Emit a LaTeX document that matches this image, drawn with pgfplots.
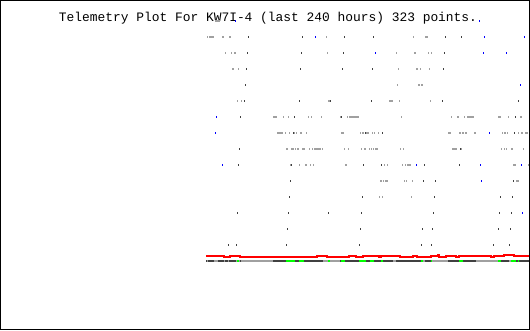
\documentclass[border=0pt]{standalone}
\usepackage{pgfplots}
\pgfplotsset{compat=1.18}
\usepackage{fontspec}
\newfontfamily\monofont{Liberation Mono}
\definecolor{dk}{HTML}{404040}
\definecolor{lg}{HTML}{A0A0A0}
\definecolor{bl}{HTML}{0000FF}
\definecolor{gr}{HTML}{00FF00}
\definecolor{rd}{HTML}{FF0000}
\pgfdeclareplotmark{bit}{\pgfpathrectangle{\pgfpoint{0pt}{-1pt}}{\pgfpoint{1pt}{2pt}}\pgfusepathqfill}
\begin{document}
\begin{tikzpicture}
\begin{axis}[
  width=530pt, height=330pt, scale only axis,
  xmin=0, xmax=530, ymin=0, ymax=330, y dir=reverse,
  hide axis, clip=false,
  unbounded coords=jump,
]
% frame and title
\draw[black, line width=1pt] (axis cs:0.5,0.5) rectangle (axis cs:529.5,329.5);
\node[anchor=base, inner sep=0pt, font=\monofont\fontsize{12.9}{14}\selectfont] at (axis cs:268,21.5) {Telemetry Plot For KW7I-4 (last 240 hours) 323 points.};

% light gray runs
\addplot[lg, line width=2pt, mark=none] coordinates {
(215,21)(220,21)(0,nan)(319,21)(320,21)(0,nan)
(207,37)(208,37)(0,nan)(209,37)(214,37)(0,nan)(222,37)(224,37)(0,nan)(229,37)(231,37)(0,nan)(326,37)(327,37)(0,nan)(413,37)(414,37)(0,nan)(425,37)(428,37)(0,nan)
(225,53)(226,53)(0,nan)(231,53)(232,53)(0,nan)(234,53)(236,53)(0,nan)(327,53)(328,53)(0,nan)(396,53)(397,53)(0,nan)(414,53)(416,53)(0,nan)(428,53)(429,53)(0,nan)(431,53)(432,53)(0,nan)
(232,69)(234,69)(0,nan)(238,69)(239,69)(0,nan)(398,69)(399,69)(0,nan)(416,69)(418,69)(0,nan)(420,69)(421,69)(0,nan)(429,69)(430,69)(0,nan)
(397,85)(398,85)(0,nan)(418,85)(420,85)(0,nan)(421,85)(423,85)(0,nan)
(237,101)(238,101)(0,nan)(241,101)(242,101)(0,nan)(328,101)(330,101)(0,nan)(389,101)(393,101)(0,nan)(399,101)(400,101)(0,nan)(430,101)(431,101)(0,nan)
(273,117)(277,117)(0,nan)(283,117)(284,117)(0,nan)(288,117)(289,117)(0,nan)(308,117)(309,117)(0,nan)(311,117)(312,117)(0,nan)(321,117)(322,117)(0,nan)(340,117)(341,117)(0,nan)(347,117)(348,117)(0,nan)(349,117)(359,117)(0,nan)(401,117)(402,117)(0,nan)(451,117)(452,117)(0,nan)(457,117)(459,117)(0,nan)(464,117)(465,117)(0,nan)(467,117)(474,117)(0,nan)(498,117)(501,117)(0,nan)(508,117)(509,117)(0,nan)(520,117)(522,117)(0,nan)
(277,133)(283,133)(0,nan)(285,133)(286,133)(0,nan)(289,133)(290,133)(0,nan)(294,133)(295,133)(0,nan)(296,133)(297,133)(0,nan)(300,133)(302,133)(0,nan)(306,133)(307,133)(0,nan)(341,133)(344,133)(0,nan)(360,133)(361,133)(0,nan)(362,133)(364,133)(0,nan)(366,133)(369,133)(0,nan)(372,133)(373,133)(0,nan)(374,133)(375,133)(0,nan)(378,133)(379,133)(0,nan)(448,133)(451,133)(0,nan)(459,133)(461,133)(0,nan)(462,133)(464,133)(0,nan)(465,133)(467,133)(0,nan)(474,133)(476,133)(0,nan)(502,133)(503,133)(0,nan)(504,133)(506,133)(0,nan)(507,133)(508,133)(0,nan)(518,133)(519,133)(0,nan)(521,133)(523,133)(0,nan)(525,133)(528,133)(0,nan)
(286,149)(288,149)(0,nan)(291,149)(294,149)(0,nan)(295,149)(296,149)(0,nan)(297,149)(299,149)(0,nan)(302,149)(305,149)(0,nan)(309,149)(310,149)(0,nan)(312,149)(313,149)(0,nan)(314,149)(321,149)(0,nan)(322,149)(323,149)(0,nan)(344,149)(345,149)(0,nan)(348,149)(349,149)(0,nan)(361,149)(362,149)(0,nan)(364,149)(366,149)(0,nan)(369,149)(370,149)(0,nan)(371,149)(372,149)(0,nan)(373,149)(374,149)(0,nan)(375,149)(378,149)(0,nan)(400,149)(401,149)(0,nan)(403,149)(404,149)(0,nan)(452,149)(457,149)(0,nan)(461,149)(462,149)(0,nan)(501,149)(502,149)(0,nan)(504,149)(505,149)(0,nan)(506,149)(507,149)(0,nan)(511,149)(513,149)(0,nan)(523,149)(524,149)(0,nan)
(290,165)(291,165)(0,nan)(299,165)(300,165)(0,nan)(305,165)(307,165)(0,nan)(310,165)(311,165)(0,nan)(313,165)(314,165)(0,nan)(345,165)(347,165)(0,nan)(384,165)(385,165)(0,nan)(387,165)(388,165)(0,nan)(402,165)(403,165)(0,nan)(405,165)(406,165)(0,nan)(407,165)(411,165)(0,nan)(513,165)(516,165)(0,nan)(528,165)(529,165)(0,nan)
(380,181)(382,181)(0,nan)(383,181)(384,181)(0,nan)(385,181)(388,181)(0,nan)(404,181)(405,181)(0,nan)(406,181)(407,181)(0,nan)(412,181)(413,181)(0,nan)(516,181)(519,181)(0,nan)
(379,197)(380,197)(0,nan)(382,197)(383,197)(0,nan)(411,197)(412,197)
};

% dark gray bits
\addplot[dk, only marks, mark=bit] coordinates {
(248,37)(302,37)(344,37)(373,37)(445,37)(461,37)
(247,53)(301,53)(343,53)(444,53)
(246,69)(300,69)(342,69)(372,69)(443,69)
(245,85)
(244,101)(299,101)(330,101)(371,101)(442,101)(518,101)
(240,117)(294,117)(341,117)(515,117)
(293,133)(365,133)(382,133)(514,133)
(239,149)(460,149)
(238,165)(291,165)(363,165)(381,165)(424,165)(459,165)
(290,181)(423,181)(435,181)(513,181)
(289,197)(362,197)(434,197)(500,197)(512,197)
(237,213)(288,213)(328,213)(361,213)(433,213)(499,213)(511,213)
(287,229)(360,229)(422,229)(432,229)(498,229)(510,229)
(228,245)(236,245)(286,245)(359,245)(421,245)(431,245)(493,245)(509,245)
};

% blue bits
\addplot[bl, only marks, mark=bit] coordinates {
(235,21)(479,21)
(315,37)(484,37)(524,37)
(375,53)(483,53)(506,53)
(520,85)
(216,117)
(215,133)(489,133)
(222,165)(416,165)(480,165)(521,165)
(481,181)
(522,213)
};

% red step line
\addplot[rd, line width=2pt, const plot, mark=none] coordinates {
(206,256.3)(224,257.3)(230,256.3)(240,257.3)(317,256.3)(327,257.3)
(349,256.3)(356,257.3)(363,256.3)(379,257.3)(381,256.3)(400,257.3)
(413,256.3)(417,257.3)(431,256.3)(438,255.3)(439,257.3)(446,256.3)
(456,257.3)(459,256.3)(491,257.3)(494,256.3)(504,255.3)(514,256.3)(529,256.3)
};

% bottom status bar: dark base
\addplot[dk, line width=2pt, mark=none] coordinates {(206,260.7)(529,260.7)};
\addplot[lg, line width=2pt, mark=none] coordinates {
(207,260.7)(208,260.7)(0,nan)(214,260.7)(218,260.7)(0,nan)(224,260.7)(225,260.7)(0,nan)
(228,260.7)(229,260.7)(0,nan)(236,260.7)(237,260.7)(0,nan)(239,260.7)(240,260.7)(0,nan)
(241,260.7)(273,260.7)(0,nan)(323,260.7)(328,260.7)(0,nan)(330,260.7)(340,260.7)(0,nan)
(393,260.7)(396,260.7)(0,nan)(423,260.7)(425,260.7)(0,nan)(432,260.7)(448,260.7)(0,nan)
(476,260.7)(498,260.7)(0,nan)(509,260.7)(511,260.7)
};
\addplot[gr, line width=2pt, mark=none] coordinates {
(237,260.7)(239,260.7)(0,nan)(286,260.7)(295,260.7)(0,nan)(299,260.7)(304,260.7)(0,nan)
(328,260.7)(330,260.7)(0,nan)(341,260.7)(345,260.7)(0,nan)(359,260.7)(366,260.7)(0,nan)
(370,260.7)(374,260.7)(0,nan)(381,260.7)(383,260.7)(0,nan)(421,260.7)(423,260.7)(0,nan)
(431,260.7)(432,260.7)(0,nan)(459,260.7)(463,260.7)(0,nan)(498,260.7)(501,260.7)(0,nan)
(511,260.7)(516,260.7)(0,nan)(518,260.7)(519,260.7)
};
\end{axis}
\end{tikzpicture}
\end{document}
